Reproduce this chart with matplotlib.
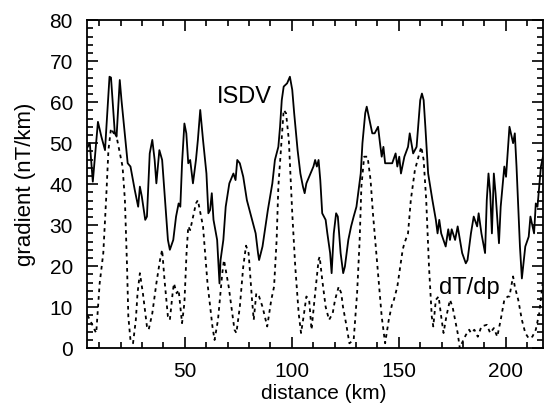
import numpy as np
import matplotlib
matplotlib.use('Agg')
import matplotlib.pyplot as plt
from matplotlib.ticker import MultipleLocator

plt.rcParams['font.family'] = ['Liberation Sans', 'DejaVu Sans']

# ISDV gradient (solid line)
isdv_km = [4.5, 5.6, 7.0, 9.4, 11.0, 12.7, 14.8, 15.5, 17.3, 18.1, 19.6, 20.4, 23.3, 24.6,
           26.6, 28.2, 29.0, 29.9, 31.5, 32.3, 33.6, 34.8, 35.9, 36.7, 38.1, 39.4, 41.0,
           42.1, 43.0, 44.6, 45.9, 47.1, 47.9, 48.7, 49.8, 50.7, 51.6, 52.5, 53.8, 55.2,
           56.1, 57.2, 58.5, 60.1, 61.0, 61.8, 62.6, 63.4, 65.1, 66.2, 66.7, 68.0, 69.1,
           70.8, 72.7, 73.7, 74.5, 75.7, 77.3, 79.0, 80.6, 81.4, 83.1, 84.2, 84.7, 86.3,
           88.8, 90.9, 92.1, 92.9, 93.7, 94.5, 95.3, 96.2, 97.8, 99.1, 100.2, 101.1, 102.7,
           104.0, 105.2, 106.0, 106.8, 110.1, 110.9, 111.7, 112.5, 113.3, 114.2, 115.8,
           116.6, 117.9, 118.6, 119.6, 120.7, 121.5, 122.8, 124.0, 124.8, 126.4, 127.7,
           128.9, 130.2, 131.0, 132.2, 133.0, 134.3, 135.0, 136.3, 137.6, 138.7, 140.3,
           141.2, 142.0, 142.8, 143.6, 145.3, 146.9, 148.5, 149.3, 150.2, 151.0, 152.6,
           154.3, 155.1, 156.7, 158.3, 160.0, 160.8, 161.6, 162.4, 163.7, 165.7, 167.3,
           168.1, 168.9, 169.8, 171.9, 173.1, 173.9, 174.7, 176.3, 177.5, 179.6, 181.3,
           182.1, 183.7, 185.0, 186.6, 187.3, 188.6, 190.3, 191.1, 191.9, 192.7, 193.5,
           194.4, 195.2, 196.8, 197.6, 199.3, 200.1, 201.7, 203.4, 204.2, 205.0, 206.6,
           207.5, 209.1, 210.7, 211.5, 213.2, 214.0, 214.8, 216.4, 217.5]
isdv_val = [49.0, 50.0, 40.6, 55.2, 51.6, 48.3, 66.2, 66.0, 52.4, 51.6, 65.4, 60.5, 45.1, 44.3,
            38.6, 34.5, 39.4, 37.0, 31.3, 32.1, 47.5, 50.8, 45.9, 40.2, 48.3, 45.9, 34.5,
            26.4, 24.0, 26.4, 32.1, 35.3, 34.5, 45.1, 54.8, 52.4, 45.1, 45.9, 40.2, 45.9,
            50.8, 58.1, 50.8, 42.6, 32.9, 33.7, 37.8, 31.3, 26.4, 15.8, 21.5, 26.4, 34.5,
            40.2, 42.6, 41.0, 45.9, 45.1, 41.8, 36.1, 32.9, 31.3, 28.0, 23.2, 21.5, 24.8,
            33.7, 40.2, 45.9, 47.5, 49.1, 54.0, 60.5, 63.8, 64.6, 66.2, 63.0, 57.3, 48.3,
            42.6, 39.4, 37.8, 40.2, 44.3, 45.9, 44.3, 45.9, 41.0, 32.9, 31.3,
            28.0, 23.2, 18.3, 28.0, 32.9, 32.1, 23.2, 18.3, 19.9, 26.4, 29.7,
            32.1, 34.5, 37.8, 42.6, 50.0, 57.3, 58.9, 55.6, 52.4, 52.4, 54.0,
            50.0, 46.7, 49.1, 45.1, 45.1, 45.1, 47.5, 44.3, 46.7, 42.6, 46.7,
            49.1, 52.4, 47.5, 49.1, 60.5, 62.1, 60.5, 54.0, 42.6, 36.1, 31.3,
            28.0, 31.3, 28.0, 24.8, 29.0, 26.4, 29.0, 26.4, 29.7, 23.2, 20.7,
            21.5, 28.0, 32.1, 29.7, 32.9, 28.0, 23.2, 36.1, 42.6, 37.8, 28.0,
            42.6, 37.8, 25.6, 34.5, 44.3, 41.8, 54.0, 50.0, 52.4, 44.3, 24.8,
            17.0, 24.8, 27.2, 32.1, 28.0, 35.3, 34.5, 44.3, 47.0]

# dT/dp gradient (dotted line)
dtdp_km = [4.5, 5.6, 7.8, 8.6, 10.2, 11.9, 13.2, 14.3, 15.5, 16.8, 17.6, 18.4, 20.9, 22.0,
           23.0, 23.6, 24.6, 25.8, 27.1, 27.9, 29.0, 30.4, 32.3, 33.1, 34.8, 36.7, 38.4,
           39.4, 40.5, 42.1, 43.0, 44.3, 44.9, 46.2, 47.1, 48.7, 49.8, 50.8, 51.6, 52.5,
           55.2, 56.1, 58.5, 60.6, 62.9, 63.9, 65.5, 67.5, 68.3, 70.5, 73.2, 74.1, 75.7,
           77.3, 78.6, 79.8, 81.4, 82.2, 83.4, 84.7, 86.3, 88.5, 90.4, 91.7, 92.9, 93.7,
           95.0, 96.2, 97.3, 98.6, 100.2, 101.6, 103.2, 104.3, 105.5, 106.8, 108.1, 109.2,
           110.9, 112.5, 113.0, 114.2, 115.8, 117.4, 119.1, 120.2, 121.9, 123.1, 123.9,
           125.6, 126.9, 128.9, 130.5, 131.7, 132.5, 133.8, 135.4, 136.8, 137.9, 140.3,
           142.0, 143.6, 145.3, 146.9, 147.7, 149.3, 151.8, 152.6, 154.3, 155.6, 157.5,
           159.2, 160.5, 161.6, 162.8, 164.1, 165.4, 166.1, 167.3, 168.6, 169.8, 170.9,
           172.2, 173.9, 175.1, 176.3, 177.5, 178.5, 179.1, 181.3, 182.9, 183.7, 185.3,
           186.9, 188.6, 191.1, 192.7, 194.4, 196.0, 197.6, 199.3, 200.9, 201.7, 202.5,
           203.4, 204.2, 205.8, 207.5, 209.1, 210.7, 212.4, 214.0, 215.6, 217.2]
dtdp_val = [8.0, 7.0, 4.5, 3.7, 15.8, 23.2, 36.1, 48.3, 53.6, 52.4, 53.0, 50.8, 44.3, 36.1,
            19.9, 7.7, 2.0, 1.2, 6.9, 13.4, 18.3, 13.4, 5.3, 4.5, 8.5, 15.8, 21.5,
            24.0, 16.7, 7.7, 6.9, 13.4, 15.8, 13.4, 14.2, 6.1, 11.0, 23.2, 29.7, 28.8,
            35.3, 36.1, 29.7, 15.8, 5.3, 2.0, 6.9, 18.3, 21.5, 15.0, 4.5, 3.7, 10.1,
            19.9, 25.0, 23.2, 11.8, 6.9, 13.4, 12.6, 10.1, 5.3, 11.8, 15.0, 26.4, 39.4,
            49.1, 58.1, 57.3, 50.8, 32.9, 19.9, 8.5, 3.7, 7.7, 12.6, 11.8, 4.5,
            13.4, 21.5, 22.3, 16.7, 10.1, 6.9, 8.5, 11.8, 15.0, 13.4, 10.1,
            5.3, 1.2, 2.0, 13.4, 26.4, 39.4, 46.7, 46.7, 41.0, 32.9, 18.3,
            7.7, 1.2, 6.9, 10.9, 11.8, 15.0, 24.0, 25.6, 28.0, 36.1, 43.4,
            46.7, 49.1, 45.9, 36.1, 19.9, 7.7, 5.3, 11.8, 12.6, 7.7, 3.7,
            7.7, 11.8, 10.1, 6.9, 3.7, 0.0, 0.8, 3.2, 4.5, 3.7, 4.5,
            2.8, 5.3, 5.7, 3.7, 4.9, 2.8, 6.9, 11.8, 12.6, 12.6, 15.0,
            17.5, 15.0, 11.8, 6.9, 3.7, 2.4, 2.8, 4.5, 8.5, 15.8]

fig = plt.figure(figsize=(5.46, 4.03), dpi=100)
ax = fig.add_axes([0.159, 0.136, 0.836, 0.814])

ax.plot(isdv_km, isdv_val, color='black', lw=1.3)
ax.plot(dtdp_km, dtdp_val, color='black', lw=1.3, linestyle=(0, (2, 2.2)))

ax.set_xlim(4.2, 217.5)
ax.set_ylim(0, 80)
ax.xaxis.set_major_locator(MultipleLocator(50))
ax.xaxis.set_minor_locator(MultipleLocator(10))
ax.yaxis.set_major_locator(MultipleLocator(10))
ax.yaxis.set_minor_locator(MultipleLocator(2))
ax.tick_params(which='both', direction='in', top=True, right=True, width=1.2,
               labelsize=15, pad=10)
ax.tick_params(which='major', length=8)
ax.tick_params(which='minor', length=4)
for s in ax.spines.values():
    s.set_linewidth(1.3)

ax.text(77.6, 61.2, 'ISDV', fontsize=17, ha='center', va='center')
ax.text(183, 14.6, 'dT/dp', fontsize=17, ha='center', va='center')

ax.set_xlabel('distance (km)', fontsize=15)
ax.xaxis.set_label_coords(0.52, -0.108)
ax.set_ylabel('gradient (nT/km)', fontsize=16, labelpad=10)

fig.savefig('out.png', dpi=100)
